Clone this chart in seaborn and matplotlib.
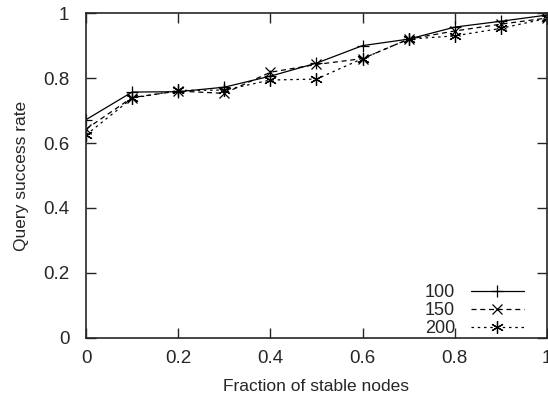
import pandas as pd
import numpy as np
import matplotlib
matplotlib.use('Agg')
import matplotlib.pyplot as plt
import seaborn as sns

# Data
fraction = [0.0, 0.1, 0.2, 0.3, 0.4, 0.5, 0.6, 0.7, 0.8, 0.9, 1.0]
rate_100 = [0.672, 0.757, 0.758, 0.772, 0.806, 0.846, 0.900, 0.920, 0.957, 0.975, 0.994]
rate_150 = [0.643, 0.740, 0.760, 0.753, 0.818, 0.842, 0.860, 0.920, 0.945, 0.966, 0.985]
rate_200 = [0.625, 0.738, 0.762, 0.763, 0.794, 0.797, 0.860, 0.920, 0.930, 0.953, 0.984]
labels = ['100', '150', '200']

sns.set_style('ticks')
plt.rcParams['font.family'] = ['Liberation Sans', 'DejaVu Sans']

fig = plt.figure(figsize=(5.48, 3.98), dpi=100)
ax = fig.add_axes([0.157, 0.151, 0.841, 0.816])

styles = [('-', '+', 9), ((0, (4, 3)), 'x', 7), ((0, (2, 3)), (6, 2, 0), 9)]
for rates, label, (ls, mk, ms) in zip([rate_100, rate_150, rate_200], labels, styles):
    df = pd.DataFrame({'fraction': fraction, 'rate': rates})
    sns.lineplot(data=df, x='fraction', y='rate', ax=ax, color='black', linewidth=0.9,
                 linestyle=ls, marker=mk, markersize=ms, markeredgewidth=0.9,
                 markerfacecolor='black', markeredgecolor='black', label=label)

ax.set_xlim(0, 1)
ax.set_ylim(0, 1)
ax.set_xticks([0, 0.2, 0.4, 0.6, 0.8, 1])
ax.set_xticklabels(['0', '0.2', '0.4', '0.6', '0.8', '1'])
ax.set_yticks([0, 0.2, 0.4, 0.6, 0.8, 1])
ax.set_yticklabels(['0', '0.2', '0.4', '0.6', '0.8', '1'])
ax.tick_params(direction='in', top=True, right=True, length=7, width=1, labelsize=13.5)
ax.tick_params(axis='x', pad=9)
ax.tick_params(axis='y', pad=12)
for s in ax.spines.values():
    s.set_linewidth(1.2)
ax.set_xlabel('Fraction of stable nodes', fontsize=12.5, labelpad=8)
ax.set_ylabel('Query success rate', fontsize=12.5, labelpad=10)

ax.legend(loc='lower right', bbox_to_anchor=(0.965, -0.02), frameon=False, markerfirst=False,
          handlelength=2.9, fontsize=13, labelspacing=0.05, borderaxespad=0.0, handletextpad=0.9)

fig.savefig('out.png', dpi=100)
